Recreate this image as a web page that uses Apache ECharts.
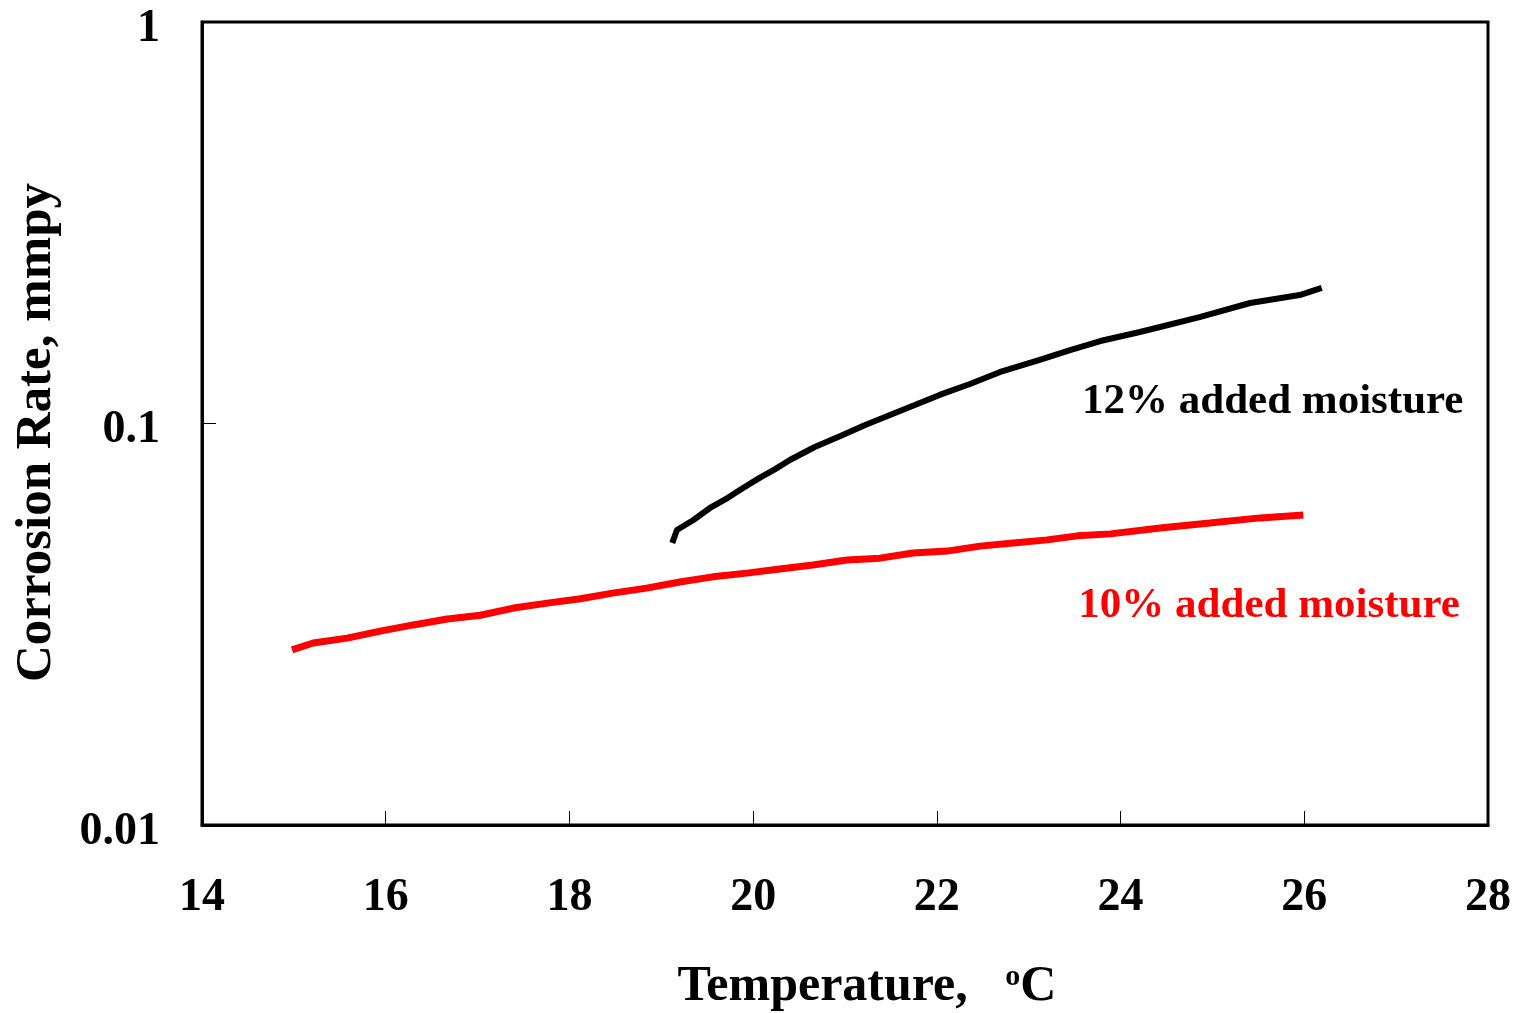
<!DOCTYPE html>
<html>
<head>
<meta charset="utf-8">
<title>Corrosion Rate vs Temperature</title>
<script src="https://cdn.jsdelivr.net/npm/echarts@6/dist/echarts.min.js"></script>
<style>
  html, body { margin: 0; padding: 0; background: #fff; overflow: hidden; }
  #chart { width: 1514px; height: 1013px; }
</style>
</head>
<body>
<div id="chart"></div>
<script>
// Temperature (°C) and corrosion rate (mmpy) for each moisture level
const temp12 = [19.12, 19.17, 19.35, 19.53, 19.72, 19.89, 20.07, 20.24, 20.40, 20.67,
                20.95, 21.22, 21.49, 21.76, 22.03, 22.36, 22.69, 23.12, 23.45, 23.78,
                24.21, 24.43, 24.86, 25.41, 25.68, 25.95, 26.19];
const rate12 = [0.0504, 0.0543, 0.0575, 0.0616, 0.0652, 0.0691, 0.0732, 0.0770, 0.0811, 0.0874,
                0.0931, 0.0991, 0.1050, 0.1112, 0.1178, 0.1254, 0.1344, 0.1440, 0.1524, 0.1605,
                0.1690, 0.1739, 0.1841, 0.1996, 0.2042, 0.2089, 0.2176];

const temp10 = [14.98, 15.21, 15.58, 15.94, 16.30, 16.67, 17.03, 17.39, 17.76, 18.12,
                18.47, 18.84, 19.20, 19.56, 19.93, 20.29, 20.65, 21.02, 21.38, 21.74,
                22.11, 22.47, 22.83, 23.20, 23.53, 23.89, 24.43, 24.97, 25.52, 25.99];
const rate10 = [0.0273, 0.0284, 0.0292, 0.0304, 0.0315, 0.0326, 0.0333, 0.0347, 0.0357, 0.0366,
                0.0378, 0.0389, 0.0403, 0.0415, 0.0424, 0.0434, 0.0444, 0.0457, 0.0462, 0.0476,
                0.0481, 0.0495, 0.0504, 0.0513, 0.0525, 0.0531, 0.0549, 0.0565, 0.0582, 0.0592];

// Axis ranges
const xMin = 14, xMax = 28, xStep = 2;
const yMin = 0.01, yMax = 1;

// Series captions and where they sit (data coordinates of the caption's left-middle)
const labels = [
  { text: '12% added moisture', color: '#000000', at: [23.58, 0.1131] },
  { text: '10% added moisture', color: '#ff0000', at: [23.54, 0.0351] }
];

const FONT = '"Liberation Serif", "Times New Roman", serif';

const chart = echarts.init(document.getElementById('chart'), null, { renderer: 'canvas' });

const zip = (xs, ys) => xs.map((x, i) => [x, ys[i]]);

const option = {
  animation: false,
  backgroundColor: '#ffffff',
  grid: {
    left: 202, width: 1286, top: 22, height: 803,
    outerBoundsMode: 'none',
    containLabel: false,
    show: true, borderColor: '#000', borderWidth: 3, backgroundColor: 'transparent'
  },
  xAxis: {
    type: 'value',
    min: xMin, max: xMax, interval: xStep,
    splitLine: { show: false },
    axisLine: { show: true, lineStyle: { color: '#000', width: 3 } },
    axisTick: { show: true, inside: true, length: 14, lineStyle: { color: '#000', width: 1 } },
    axisLabel: {
      margin: 50,
      color: '#000', fontFamily: FONT, fontWeight: 'bold', fontSize: 46
    },
    name: '{t|Temperature,   }{s|o}{t|C}',
    nameLocation: 'middle',
    nameGap: 137,
    nameTextStyle: {
      padding: [0, 0, 0, 44],
      rich: {
        t: { fontFamily: FONT, fontWeight: 'bold', fontSize: 50, color: '#000' },
        s: { fontFamily: FONT, fontWeight: 'bold', fontSize: 30, color: '#000', verticalAlign: 'top', padding: [0, 0, 18, 0] }
      }
    }
  },
  yAxis: {
    type: 'log',
    logBase: 10,
    min: yMin, max: yMax,
    splitLine: { show: false },
    minorTick: { show: false },
    axisLine: { show: true, lineStyle: { color: '#000', width: 3 } },
    axisTick: { show: true, inside: true, length: 14, lineStyle: { color: '#000', width: 1 } },
    axisLabel: {
      margin: 42,
      formatter: v => '{n|' + String(parseFloat(Number(v).toPrecision(6))) + '}',
      rich: {
        n: { color: '#000', fontFamily: FONT, fontWeight: 'bold', fontSize: 46, padding: [14, 0, 0, 0] }
      }
    },
    name: 'Corrosion Rate, mmpy',
    nameLocation: 'middle',
    nameGap: 140,
    nameRotate: 90,
    nameTextStyle: {
      fontFamily: FONT, fontWeight: 'bold', fontSize: 51, color: '#000',
      padding: [0, 18, 0, 0]
    }
  },
  series: [
    {
      name: '12% added moisture',
      type: 'line',
      data: zip(temp12, rate12),
      showSymbol: false,
      symbol: 'none',
      lineStyle: { color: '#000000', width: 6 },
      itemStyle: { color: '#000000' }
    },
    {
      name: '10% added moisture',
      type: 'line',
      data: zip(temp10, rate10),
      showSymbol: false,
      symbol: 'none',
      lineStyle: { color: '#ff0000', width: 7 },
      itemStyle: { color: '#ff0000' }
    }
  ]
};

chart.setOption(option);

// Place the series captions inside the plot using the chart's own coordinate system
chart.setOption({
  graphic: labels.map(l => {
    const p = chart.convertToPixel({ gridIndex: 0 }, l.at);
    return {
      type: 'text',
      x: p[0], y: p[1],
      style: {
        text: l.text,
        fill: l.color,
        font: 'bold 43px ' + FONT,
        textAlign: 'left',
        textVerticalAlign: 'middle'
      }
    };
  })
});
</script>
</body>
</html>
